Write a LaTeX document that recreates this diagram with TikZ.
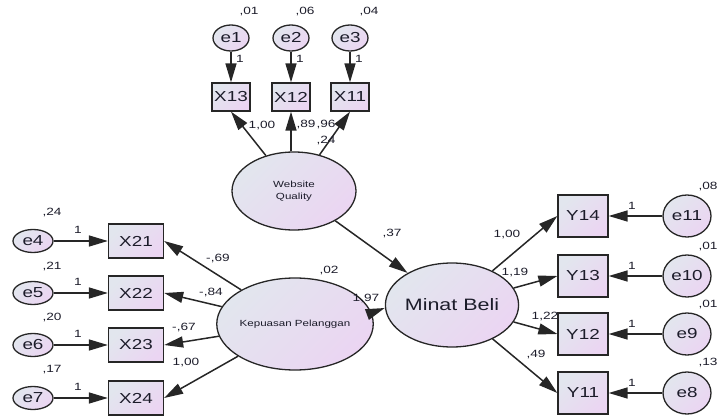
\documentclass[tikz,border=0pt]{standalone}
\usepackage{fontspec}
\setmainfont{Liberation Sans}[FakeStretch=1.3]
\usetikzlibrary{shapes.geometric,arrows.meta}
\definecolor{fillA}{HTML}{E2E6EE}
\definecolor{fillB}{HTML}{EBD5F2}
\definecolor{edge}{HTML}{262626}
\definecolor{txt}{HTML}{1C1C2A}
\begin{document}
\begin{tikzpicture}[x=1pt,y=-1pt,
  shaded/.style={draw=edge, line width=1.3pt, top color=fillA, bottom color=fillB, shading angle=45, inner sep=0pt, text=txt},
  boxT/.style={shaded, rectangle, minimum width=38pt, minimum height=28pt, font=\fontsize{14.5}{16}\selectfont},
  boxL/.style={shaded, rectangle, minimum width=55pt, minimum height=34pt, font=\fontsize{14.5}{16}\selectfont},
  boxR/.style={shaded, rectangle, minimum width=50pt, minimum height=42pt, font=\fontsize{14.5}{16}\selectfont},
  errT/.style={shaded, ellipse, minimum width=36pt, minimum height=26pt, font=\fontsize{14.5}{16}\selectfont},
  errL/.style={shaded, ellipse, minimum width=40pt, minimum height=23pt, font=\fontsize{14.5}{16}\selectfont},
  errR/.style={shaded, ellipse, minimum width=48pt, minimum height=42pt, font=\fontsize{14.5}{16}\selectfont},
  latent/.style={shaded, ellipse, align=center},
  arr/.style={line width=1.5pt, draw=edge, -{Triangle[length=19pt,width=11pt]}},
  lab/.style={font=\fontsize{10.5}{12}\selectfont, text=txt, inner sep=0pt}]
\useasboundingbox (0,0) rectangle (717,417);
% top block
\node[errT] (e1) at (231,38) {e1};
\node[errT] (e2) at (291,38) {e2};
\node[errT] (e3) at (350,38) {e3};
\node[boxT] (X13) at (231,97) {X13};
\node[boxT] (X12) at (291,97) {X12};
\node[boxT] (X11) at (350,97) {X11};
\node[latent, minimum width=124pt, minimum height=78pt, font=\fontsize{8.9}{12}\selectfont] (WQ) at (294,191) {Website\\Quality};
% left block
\node[errL] (e4) at (33,241) {e4};
\node[errL] (e5) at (33,293) {e5};
\node[errL] (e6) at (33,345) {e6};
\node[errL] (e7) at (33,398) {e7};
\node[boxL] (X21) at (136,241) {X21};
\node[boxL] (X22) at (136,293) {X22};
\node[boxL] (X23) at (136,345) {X23};
\node[boxL] (X24) at (136,398) {X24};
\node[latent, minimum width=126pt, minimum height=92pt, font=\fontsize{8.9}{12}\selectfont] (KP) at (295,324) {Kepuasan Pelanggan};
% right block
\node[latent, minimum width=102pt, minimum height=84pt, font=\fontsize{16.5}{18}\selectfont] (MB) at (452,305) {Minat Beli};
\node[boxR] (Y14) at (583,216) {Y14};
\node[boxR] (Y13) at (583,276) {Y13};
\node[boxR] (Y12) at (583,334) {Y12};
\node[boxR] (Y11) at (583,393) {Y11};
\node[errR] (e11) at (687,216) {e11};
\node[errR] (e10) at (687,276) {e10};
\node[errR] (e9) at (687,334) {e9};
\node[errR] (e8) at (687,393) {e8};
% arrows
\draw[arr] (e1) -- (X13);
\draw[arr] (e2) -- (X12);
\draw[arr] (e3) -- (X11);
\draw[arr] (WQ) -- (X13.south);
\draw[arr] (X12.south |- WQ.north) -- (X12.south);
\draw[arr] (WQ) -- (X11.south);
\draw[arr] (WQ) -- (MB);
\draw[arr] ([yshift=12pt]KP.east) -- ([yshift=-3pt]MB.west);
\draw[arr] (e4) -- (X21);
\draw[arr] (e5) -- (X22);
\draw[arr] (e6) -- (X23);
\draw[arr] (e7) -- (X24);
\draw[arr] (KP) -- (X21.east);
\draw[arr] (KP) -- (X22.east);
\draw[arr] (KP) -- (X23.east);
\draw[arr] (KP) -- (X24.east);
\draw[arr] (MB) -- (Y14.west);
\draw[arr] (MB) -- (Y13.west);
\draw[arr] (MB) -- (Y12.west);
\draw[arr] (MB) -- (Y11.west);
\draw[arr] (e11) -- (Y14);
\draw[arr] (e10) -- (Y13);
\draw[arr] (e9) -- (Y12);
\draw[arr] (e8) -- (Y11);
% variance labels
\node[lab] (v1) at (249,12) {,01};
\node[lab] (v2) at (305,12) {,06};
\node[lab] (v3) at (369,12) {,04};
\node[lab] (v4) at (52,213) {,24};
\node[lab] (v5) at (52,267) {,21};
\node[lab] (v6) at (52,318) {,20};
\node[lab] (v7) at (52,370) {,17};
\node[lab] (v11) at (708,187) {,08};
\node[lab] (v10) at (708,247) {,01};
\node[lab] (v9) at (708,305) {,01};
\node[lab] (v8) at (708,363) {,13};
\node[lab] (vKP) at (329,271) {,02};
\node[lab] (vWQ) at (326,141) {,24};
% fixed loadings
\node[lab] (o1) at (240,59) {1};
\node[lab] (o2) at (300,59) {1};
\node[lab] (o3) at (359,59) {1};
\node[lab] (o4) at (78,230) {1};
\node[lab] (o5) at (78,282) {1};
\node[lab] (o6) at (78,334) {1};
\node[lab] (o7) at (78,387) {1};
\node[lab] (o11) at (632,206) {1};
\node[lab] (o10) at (632,266) {1};
\node[lab] (o9) at (632,324) {1};
\node[lab] (o8) at (632,383) {1};
% coefficients
\node[lab] (c13) at (262,126) {1,00};
\node[lab] (c12) at (306,125) {,89};
\node[lab] (c11) at (326,125) {,96};
\node[lab] (c37) at (392,234) {,37};
\node[lab] (c197) at (366,299) {1,97};
\node[lab] (c21) at (218,259) {-,69};
\node[lab] (c22) at (211,293) {-,84};
\node[lab] (c23) at (184,328) {-,67};
\node[lab] (c24) at (186,363) {1,00};
\node[lab] (cY14) at (507,235) {1,00};
\node[lab] (cY13) at (515,273) {1,19};
\node[lab] (cY12) at (545,317) {1,22};
\node[lab] (cY11) at (536,355) {,49};
\end{tikzpicture}
\end{document}
